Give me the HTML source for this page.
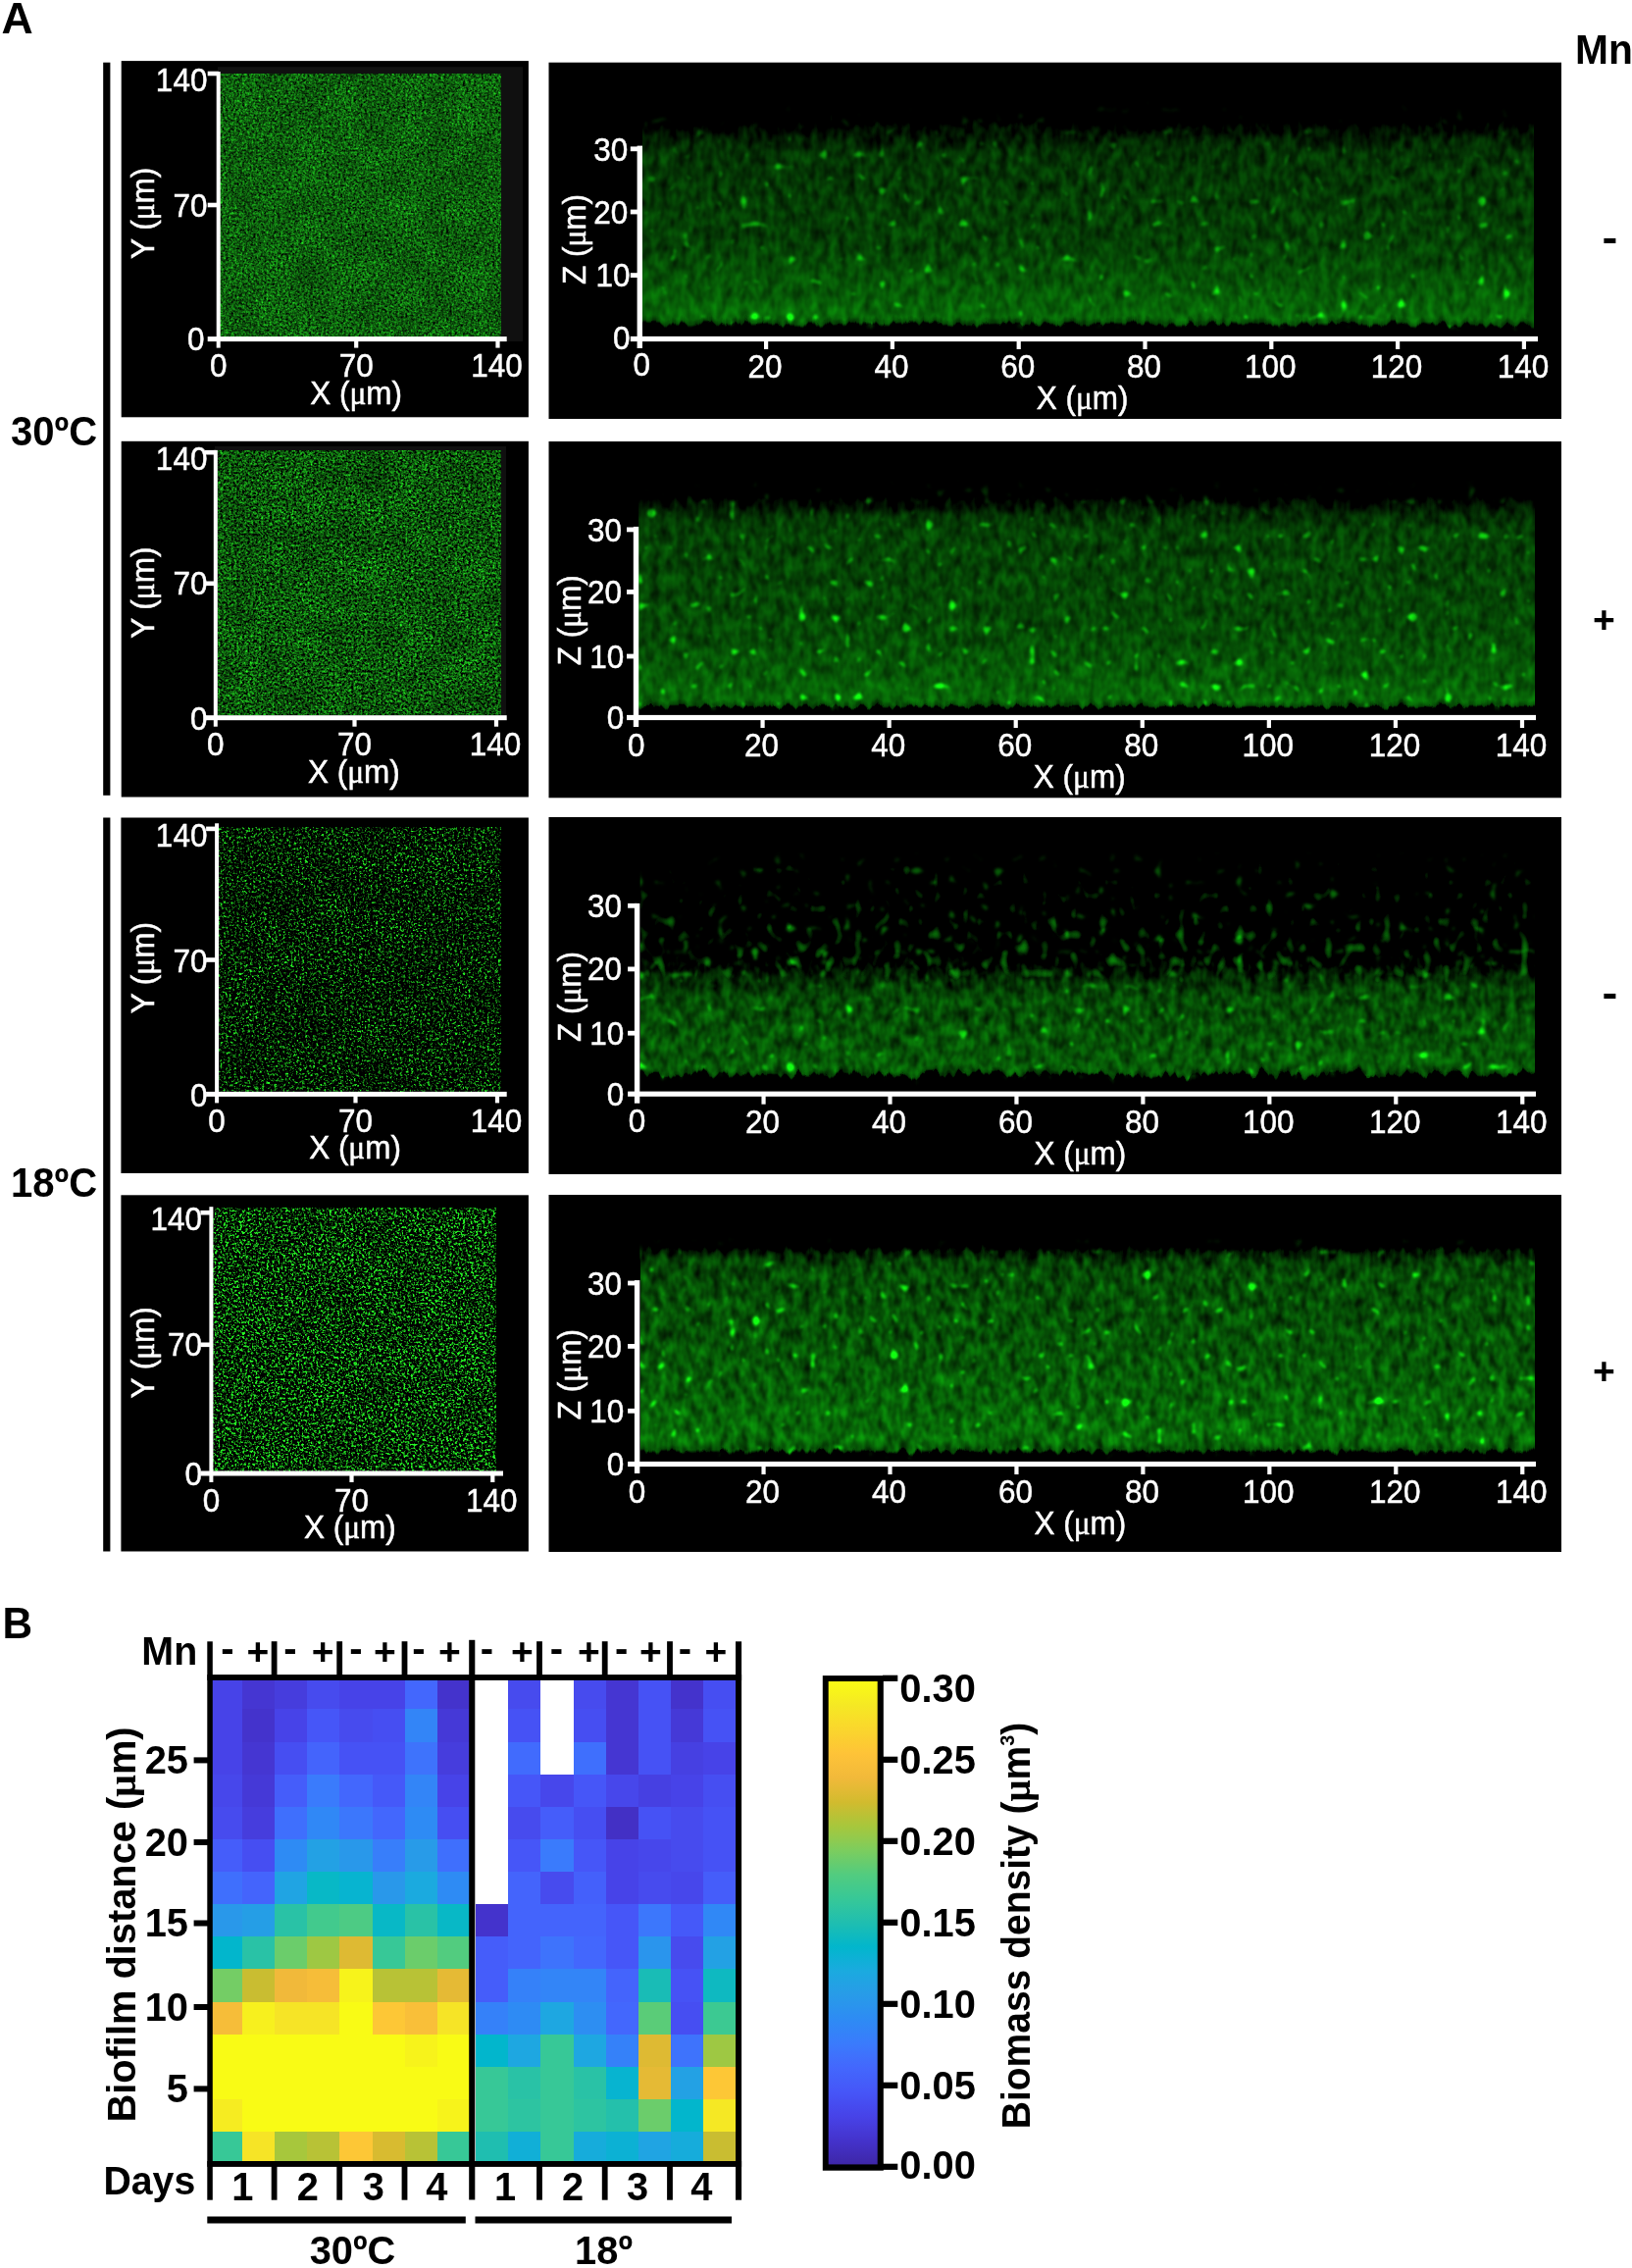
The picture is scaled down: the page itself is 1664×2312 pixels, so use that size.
<!DOCTYPE html>
<html lang="en"><head><meta charset="utf-8"><title>Figure</title>
<style>html,body{margin:0;padding:0;background:#fff}body{width:1664px;height:2312px;overflow:hidden}svg{display:block}text{font-family:"Liberation Sans", sans-serif}.w{fill:#fff;stroke:#fff;stroke-width:.5px}.b{fill:#000;font-weight:bold}.mu{font-family:"Liberation Serif","DejaVu Serif",serif}</style>
</head><body>
<svg width="1664" height="2312" viewBox="0 0 1664 2312">
<rect width="1664" height="2312" fill="#fff"/>
<defs>
<filter id="t1" x="0" y="0" width="1" height="1" color-interpolation-filters="sRGB">
<feTurbulence type="fractalNoise" baseFrequency="0.36" numOctaves="2" seed="3" result="a0"/>
<feColorMatrix in="a0" type="matrix" values="1 0 0 0 0  1 0 0 0 0  1 0 0 0 0  0 0 0 0 1" result="a1"/>
<feTurbulence type="fractalNoise" baseFrequency="0.5292" numOctaves="2" seed="104" result="b0"/>
<feColorMatrix in="b0" type="matrix" values="1 0 0 0 0  1 0 0 0 0  1 0 0 0 0  0 0 0 0 1" result="b1"/>
<feComposite in="a1" in2="b1" operator="arithmetic" k1="0" k2="0.5" k3="0.5" k4="0" result="n"/>
<feColorMatrix in="n" type="matrix" values="0 0 0 0 0  1.65 0 0 0 -0.455  0 0 0 0 0  0 0 0 0 1" result="g"/>
<feTurbulence type="fractalNoise" baseFrequency="0.03" numOctaves="2" seed="205" result="l0"/>
<feColorMatrix in="l0" type="matrix" values="1 0 0 0 0  1 0 0 0 0  1 0 0 0 0  0 0 0 0 1" result="l1"/>
<feComposite in="g" in2="l1" operator="arithmetic" k1="0.5" k2="0.75" k3="0" k4="0" result="h"/>
<feColorMatrix in="h" type="matrix" values="0 0.15 0 0 0  0 1 0 0 0  0 0.15 0 0 0  0 0 0 0 1"/>
</filter>
<filter id="t2" x="0" y="0" width="1" height="1" color-interpolation-filters="sRGB">
<feTurbulence type="fractalNoise" baseFrequency="0.36" numOctaves="2" seed="11" result="a0"/>
<feColorMatrix in="a0" type="matrix" values="1 0 0 0 0  1 0 0 0 0  1 0 0 0 0  0 0 0 0 1" result="a1"/>
<feTurbulence type="fractalNoise" baseFrequency="0.5292" numOctaves="2" seed="112" result="b0"/>
<feColorMatrix in="b0" type="matrix" values="1 0 0 0 0  1 0 0 0 0  1 0 0 0 0  0 0 0 0 1" result="b1"/>
<feComposite in="a1" in2="b1" operator="arithmetic" k1="0" k2="0.5" k3="0.5" k4="0" result="n"/>
<feColorMatrix in="n" type="matrix" values="0 0 0 0 0  2.25 0 0 0 -0.795  0 0 0 0 0  0 0 0 0 1" result="g"/>
<feTurbulence type="fractalNoise" baseFrequency="0.03" numOctaves="2" seed="213" result="l0"/>
<feColorMatrix in="l0" type="matrix" values="1 0 0 0 0  1 0 0 0 0  1 0 0 0 0  0 0 0 0 1" result="l1"/>
<feComposite in="g" in2="l1" operator="arithmetic" k1="0.6" k2="0.7" k3="0" k4="0" result="h"/>
<feColorMatrix in="h" type="matrix" values="0 0.15 0 0 0  0 1 0 0 0  0 0.15 0 0 0  0 0 0 0 1"/>
</filter>
<filter id="t3" x="0" y="0" width="1" height="1" color-interpolation-filters="sRGB">
<feTurbulence type="fractalNoise" baseFrequency="0.36" numOctaves="2" seed="23" result="a0"/>
<feColorMatrix in="a0" type="matrix" values="1 0 0 0 0  1 0 0 0 0  1 0 0 0 0  0 0 0 0 1" result="a1"/>
<feTurbulence type="fractalNoise" baseFrequency="0.5292" numOctaves="2" seed="124" result="b0"/>
<feColorMatrix in="b0" type="matrix" values="1 0 0 0 0  1 0 0 0 0  1 0 0 0 0  0 0 0 0 1" result="b1"/>
<feComposite in="a1" in2="b1" operator="arithmetic" k1="0" k2="0.5" k3="0.5" k4="0" result="n"/>
<feColorMatrix in="n" type="matrix" values="0 0 0 0 0  4.4 0 0 0 -2.2  0 0 0 0 0  0 0 0 0 1" result="g"/>
<feTurbulence type="fractalNoise" baseFrequency="0.03" numOctaves="2" seed="225" result="l0"/>
<feColorMatrix in="l0" type="matrix" values="1 0 0 0 0  1 0 0 0 0  1 0 0 0 0  0 0 0 0 1" result="l1"/>
<feComposite in="g" in2="l1" operator="arithmetic" k1="0.9" k2="0.55" k3="0" k4="0" result="h"/>
<feColorMatrix in="h" type="matrix" values="0 0.15 0 0 0  0 1 0 0 0  0 0.15 0 0 0  0 0 0 0 1"/>
</filter>
<filter id="t4" x="0" y="0" width="1" height="1" color-interpolation-filters="sRGB">
<feTurbulence type="fractalNoise" baseFrequency="0.36" numOctaves="2" seed="37" result="a0"/>
<feColorMatrix in="a0" type="matrix" values="1 0 0 0 0  1 0 0 0 0  1 0 0 0 0  0 0 0 0 1" result="a1"/>
<feTurbulence type="fractalNoise" baseFrequency="0.5292" numOctaves="2" seed="138" result="b0"/>
<feColorMatrix in="b0" type="matrix" values="1 0 0 0 0  1 0 0 0 0  1 0 0 0 0  0 0 0 0 1" result="b1"/>
<feComposite in="a1" in2="b1" operator="arithmetic" k1="0" k2="0.5" k3="0.5" k4="0" result="n"/>
<feColorMatrix in="n" type="matrix" values="0 0 0 0 0  5.45 0 0 0 -2.616  0 0 0 0 0  0 0 0 0 1" result="g"/>
<feTurbulence type="fractalNoise" baseFrequency="0.03" numOctaves="2" seed="239" result="l0"/>
<feColorMatrix in="l0" type="matrix" values="1 0 0 0 0  1 0 0 0 0  1 0 0 0 0  0 0 0 0 1" result="l1"/>
<feComposite in="g" in2="l1" operator="arithmetic" k1="0.7" k2="0.65" k3="0" k4="0" result="h"/>
<feColorMatrix in="h" type="matrix" values="0 0.15 0 0 0  0 1 0 0 0  0 0.15 0 0 0  0 0 0 0 1"/>
</filter>
<filter id="s1" x="0" y="0" width="1" height="1" color-interpolation-filters="sRGB">
<feTurbulence type="fractalNoise" baseFrequency="0.12 0.004" numOctaves="2" seed="12" result="r0"/>
<feColorMatrix in="r0" type="matrix" values="1 0 0 0 0  0 0 0 0 0.5  0 0 0 0 0.5  0 0 0 0 1" result="r1"/>
<feDisplacementMap in="SourceGraphic" in2="r1" scale="12" xChannelSelector="G" yChannelSelector="R" result="sg"/>
<feTurbulence type="fractalNoise" baseFrequency="0.11 0.065" numOctaves="2" seed="5" result="t"/>
<feColorMatrix in="t" type="matrix" values="1 0 0 0 0  1 0 0 0 0  1 0 0 0 0  0 0 0 0 1" result="n"/>
<feComposite in="n" in2="sg" operator="arithmetic" k1="0" k2="0.4" k3="1" k4="-0.7" result="c"/>
<feTurbulence type="fractalNoise" baseFrequency="0.085 0.085" numOctaves="1" seed="55" result="u"/>
<feColorMatrix in="u" type="matrix" values="0 9 0 0 -6.1  0 9 0 0 -6.1  0 9 0 0 -6.1  0 0 0 0 1" result="s0"/>
<feGaussianBlur in="s0" stdDeviation="1.2" result="s"/>
<feComposite in="s" in2="sg" operator="arithmetic" k1="1.2" k2="0" k3="0" k4="0" result="s2"/>
<feComposite in="c" in2="s2" operator="arithmetic" k1="0.5" k2="1" k3="0.45" k4="0" result="d"/>
<feColorMatrix in="d" type="matrix" values="0 0.07 0 0 0  0 1 0 0 0  0 0.07 0 0 0  0 0 0 0 1" result="e"/>
<feGaussianBlur in="e" stdDeviation="0.6"/>
</filter>
<filter id="s2" x="0" y="0" width="1" height="1" color-interpolation-filters="sRGB">
<feTurbulence type="fractalNoise" baseFrequency="0.12 0.004" numOctaves="2" seed="22" result="r0"/>
<feColorMatrix in="r0" type="matrix" values="1 0 0 0 0  0 0 0 0 0.5  0 0 0 0 0.5  0 0 0 0 1" result="r1"/>
<feDisplacementMap in="SourceGraphic" in2="r1" scale="12" xChannelSelector="G" yChannelSelector="R" result="sg"/>
<feTurbulence type="fractalNoise" baseFrequency="0.11 0.065" numOctaves="2" seed="15" result="t"/>
<feColorMatrix in="t" type="matrix" values="1 0 0 0 0  1 0 0 0 0  1 0 0 0 0  0 0 0 0 1" result="n"/>
<feComposite in="n" in2="sg" operator="arithmetic" k1="0" k2="0.42" k3="1" k4="-0.71" result="c"/>
<feTurbulence type="fractalNoise" baseFrequency="0.085 0.085" numOctaves="1" seed="65" result="u"/>
<feColorMatrix in="u" type="matrix" values="0 9 0 0 -6.1  0 9 0 0 -6.1  0 9 0 0 -6.1  0 0 0 0 1" result="s0"/>
<feGaussianBlur in="s0" stdDeviation="1.2" result="s"/>
<feComposite in="s" in2="sg" operator="arithmetic" k1="1.2" k2="0" k3="0" k4="0" result="s2"/>
<feComposite in="c" in2="s2" operator="arithmetic" k1="0.5" k2="1" k3="0.6" k4="0" result="d"/>
<feColorMatrix in="d" type="matrix" values="0 0.07 0 0 0  0 1 0 0 0  0 0.07 0 0 0  0 0 0 0 1" result="e"/>
<feGaussianBlur in="e" stdDeviation="0.6"/>
</filter>
<filter id="s3" x="0" y="0" width="1" height="1" color-interpolation-filters="sRGB">
<feTurbulence type="fractalNoise" baseFrequency="0.12 0.004" numOctaves="2" seed="32" result="r0"/>
<feColorMatrix in="r0" type="matrix" values="1 0 0 0 0  0 0 0 0 0.5  0 0 0 0 0.5  0 0 0 0 1" result="r1"/>
<feDisplacementMap in="SourceGraphic" in2="r1" scale="18" xChannelSelector="G" yChannelSelector="R" result="sg"/>
<feTurbulence type="fractalNoise" baseFrequency="0.11 0.07" numOctaves="2" seed="25" result="t"/>
<feColorMatrix in="t" type="matrix" values="1 0 0 0 0  1 0 0 0 0  1 0 0 0 0  0 0 0 0 1" result="n"/>
<feComposite in="n" in2="sg" operator="arithmetic" k1="0" k2="0.55" k3="1" k4="-0.775" result="c"/>
<feTurbulence type="fractalNoise" baseFrequency="0.085 0.085" numOctaves="1" seed="75" result="u"/>
<feColorMatrix in="u" type="matrix" values="0 9 0 0 -6.1  0 9 0 0 -6.1  0 9 0 0 -6.1  0 0 0 0 1" result="s0"/>
<feGaussianBlur in="s0" stdDeviation="1.2" result="s"/>
<feComposite in="s" in2="sg" operator="arithmetic" k1="1.2" k2="0" k3="0" k4="0" result="s2"/>
<feComposite in="c" in2="s2" operator="arithmetic" k1="0.5" k2="1" k3="0.55" k4="0" result="d"/>
<feColorMatrix in="d" type="matrix" values="0 0.07 0 0 0  0 1 0 0 0  0 0.07 0 0 0  0 0 0 0 1" result="e"/>
<feGaussianBlur in="e" stdDeviation="0.6"/>
</filter>
<filter id="s3b" x="0" y="0" width="1" height="1" color-interpolation-filters="sRGB">
<feTurbulence type="fractalNoise" baseFrequency="0.12 0.004" numOctaves="2" seed="84" result="r0"/>
<feColorMatrix in="r0" type="matrix" values="1 0 0 0 0  0 0 0 0 0.5  0 0 0 0 0.5  0 0 0 0 1" result="r1"/>
<feDisplacementMap in="SourceGraphic" in2="r1" scale="0" xChannelSelector="G" yChannelSelector="R" result="sg"/>
<feTurbulence type="fractalNoise" baseFrequency="0.1 0.075" numOctaves="1" seed="77" result="t"/>
<feColorMatrix in="t" type="matrix" values="1 0 0 0 0  1 0 0 0 0  1 0 0 0 0  0 0 0 0 1" result="n"/>
<feComposite in="n" in2="sg" operator="arithmetic" k1="0" k2="2" k3="1.5" k4="-2" result="c"/>
<feTurbulence type="fractalNoise" baseFrequency="0.085 0.085" numOctaves="1" seed="127" result="u"/>
<feColorMatrix in="u" type="matrix" values="0 9 0 0 -6.1  0 9 0 0 -6.1  0 9 0 0 -6.1  0 0 0 0 1" result="s0"/>
<feGaussianBlur in="s0" stdDeviation="1.2" result="s"/>
<feComposite in="s" in2="sg" operator="arithmetic" k1="1.2" k2="0" k3="0" k4="0" result="s2"/>
<feComposite in="c" in2="s2" operator="arithmetic" k1="0.5" k2="1" k3="0.75" k4="0" result="d"/>
<feColorMatrix in="d" type="matrix" values="0 0.07 0 0 0  0 1 0 0 0  0 0.07 0 0 0  0 0 0 0 1" result="e"/>
<feGaussianBlur in="e" stdDeviation="0.6"/>
</filter>
<filter id="s4" x="0" y="0" width="1" height="1" color-interpolation-filters="sRGB">
<feTurbulence type="fractalNoise" baseFrequency="0.12 0.004" numOctaves="2" seed="42" result="r0"/>
<feColorMatrix in="r0" type="matrix" values="1 0 0 0 0  0 0 0 0 0.5  0 0 0 0 0.5  0 0 0 0 1" result="r1"/>
<feDisplacementMap in="SourceGraphic" in2="r1" scale="12" xChannelSelector="G" yChannelSelector="R" result="sg"/>
<feTurbulence type="fractalNoise" baseFrequency="0.11 0.065" numOctaves="2" seed="35" result="t"/>
<feColorMatrix in="t" type="matrix" values="1 0 0 0 0  1 0 0 0 0  1 0 0 0 0  0 0 0 0 1" result="n"/>
<feComposite in="n" in2="sg" operator="arithmetic" k1="0" k2="0.6" k3="1" k4="-0.8" result="c"/>
<feTurbulence type="fractalNoise" baseFrequency="0.085 0.085" numOctaves="1" seed="85" result="u"/>
<feColorMatrix in="u" type="matrix" values="0 9 0 0 -6.1  0 9 0 0 -6.1  0 9 0 0 -6.1  0 0 0 0 1" result="s0"/>
<feGaussianBlur in="s0" stdDeviation="1.2" result="s"/>
<feComposite in="s" in2="sg" operator="arithmetic" k1="1.2" k2="0" k3="0" k4="0" result="s2"/>
<feComposite in="c" in2="s2" operator="arithmetic" k1="0.5" k2="1" k3="0.75" k4="0" result="d"/>
<feColorMatrix in="d" type="matrix" values="0 0.07 0 0 0  0 1 0 0 0  0 0.07 0 0 0  0 0 0 0 1" result="e"/>
<feGaussianBlur in="e" stdDeviation="0.6"/>
</filter>
<linearGradient id="cb" x1="0" y1="0" x2="0" y2="1">
<stop offset="0" stop-color="#f9fb15"/>
<stop offset="0.025" stop-color="#f7f21c"/>
<stop offset="0.05" stop-color="#f5e824"/>
<stop offset="0.075" stop-color="#f8df28"/>
<stop offset="0.1" stop-color="#fad62d"/>
<stop offset="0.125" stop-color="#fccc32"/>
<stop offset="0.15" stop-color="#fec338"/>
<stop offset="0.175" stop-color="#f8be39"/>
<stop offset="0.2" stop-color="#f1b93a"/>
<stop offset="0.225" stop-color="#e2ba34"/>
<stop offset="0.25" stop-color="#d2bb2e"/>
<stop offset="0.275" stop-color="#bcc135"/>
<stop offset="0.3" stop-color="#a7c73c"/>
<stop offset="0.325" stop-color="#92ca4d"/>
<stop offset="0.35" stop-color="#7ccd5e"/>
<stop offset="0.375" stop-color="#67cc6e"/>
<stop offset="0.4" stop-color="#52cc7f"/>
<stop offset="0.425" stop-color="#44ca8b"/>
<stop offset="0.45" stop-color="#37c897"/>
<stop offset="0.475" stop-color="#2bc3a4"/>
<stop offset="0.5" stop-color="#1fbeb0"/>
<stop offset="0.525" stop-color="#10babe"/>
<stop offset="0.55" stop-color="#02b6cc"/>
<stop offset="0.575" stop-color="#0eb0d6"/>
<stop offset="0.6" stop-color="#1baadf"/>
<stop offset="0.625" stop-color="#22a2e4"/>
<stop offset="0.65" stop-color="#289be8"/>
<stop offset="0.675" stop-color="#2b93ee"/>
<stop offset="0.7" stop-color="#2e8bf4"/>
<stop offset="0.725" stop-color="#3483f8"/>
<stop offset="0.75" stop-color="#3a7bfc"/>
<stop offset="0.775" stop-color="#3f71fc"/>
<stop offset="0.8" stop-color="#4367fd"/>
<stop offset="0.825" stop-color="#445ffa"/>
<stop offset="0.85" stop-color="#4656f8"/>
<stop offset="0.875" stop-color="#464cf0"/>
<stop offset="0.9" stop-color="#4743e8"/>
<stop offset="0.925" stop-color="#463bda"/>
<stop offset="0.95" stop-color="#4433cc"/>
<stop offset="0.975" stop-color="#412dba"/>
<stop offset="1" stop-color="#3e26a8"/>
</linearGradient>
</defs>
<rect x="123.7" y="62.1" width="415.2" height="363.2" fill="#000"/>
<rect x="222" y="68.2" width="311" height="279.8" fill="#101010"/>
<rect x="224.4" y="75" width="286.6" height="268.1" fill="#0a6a0a" filter="url(#t1)"/>
<rect x="220.7" y="73.1" width="4" height="281.5" fill="#fff"/>
<rect x="211.7" y="343.1" width="305" height="5" fill="#fff"/>
<rect x="361.1" y="345.6" width="4.2" height="9" fill="#fff"/>
<rect x="505.4" y="345.6" width="4.2" height="9" fill="#fff"/>
<rect x="211.7" y="72.7" width="11" height="4.6" fill="#fff"/>
<rect x="211.7" y="206.7" width="11" height="4.6" fill="#fff"/>
<text transform="translate(222.7 384.3) scale(0.94 1)" font-size="33.5" text-anchor="middle" class="w">0</text>
<text transform="translate(363.2 384.3) scale(0.94 1)" font-size="33.5" text-anchor="middle" class="w">70</text>
<text transform="translate(506.5 384.3) scale(0.94 1)" font-size="33.5" text-anchor="middle" class="w">140</text>
<text transform="translate(211.4 92.7) scale(0.94 1)" font-size="33.5" text-anchor="end" class="w">140</text>
<text transform="translate(211.4 220.5) scale(0.94 1)" font-size="33.5" text-anchor="end" class="w">70</text>
<text transform="translate(208.5 356.9) scale(0.94 1)" font-size="33.5" text-anchor="end" class="w">0</text>
<text transform="translate(363.1 411.6) scale(0.94 1)" font-size="33.5" text-anchor="middle" class="w">X (<tspan class="mu">μ</tspan>m)</text>
<text transform="translate(156.6 217.3) rotate(-90) scale(0.94 1)" font-size="33.5" text-anchor="middle" class="w">Y (<tspan class="mu">μ</tspan>m)</text>
<rect x="123.7" y="449.8" width="415.2" height="362.7" fill="#000"/>
<rect x="219" y="455" width="297" height="279" fill="#101010"/>
<rect x="222" y="459.3" width="289" height="269.7" fill="#0a6a0a" filter="url(#t2)"/>
<rect x="217.8" y="458.9" width="4" height="281.8" fill="#fff"/>
<rect x="208.8" y="729.2" width="307.9" height="5" fill="#fff"/>
<rect x="359.4" y="731.7" width="4.2" height="9" fill="#fff"/>
<rect x="503.9" y="731.7" width="4.2" height="9" fill="#fff"/>
<rect x="208.8" y="458.9" width="11" height="4.6" fill="#fff"/>
<rect x="208.8" y="592.5" width="11" height="4.6" fill="#fff"/>
<text transform="translate(219.8 770.4) scale(0.94 1)" font-size="33.5" text-anchor="middle" class="w">0</text>
<text transform="translate(361.5 770.4) scale(0.94 1)" font-size="33.5" text-anchor="middle" class="w">70</text>
<text transform="translate(505 770.4) scale(0.94 1)" font-size="33.5" text-anchor="middle" class="w">140</text>
<text transform="translate(211.4 478.7) scale(0.94 1)" font-size="33.5" text-anchor="end" class="w">140</text>
<text transform="translate(211.4 606.4) scale(0.94 1)" font-size="33.5" text-anchor="end" class="w">70</text>
<text transform="translate(211.4 743.7) scale(0.94 1)" font-size="33.5" text-anchor="end" class="w">0</text>
<text transform="translate(360.9 797.7) scale(0.94 1)" font-size="33.5" text-anchor="middle" class="w">X (<tspan class="mu">μ</tspan>m)</text>
<text transform="translate(156.6 604.2) rotate(-90) scale(0.94 1)" font-size="33.5" text-anchor="middle" class="w">Y (<tspan class="mu">μ</tspan>m)</text>
<rect x="123.4" y="833.5" width="415.5" height="362.5" fill="#000"/>
<rect x="223.4" y="843.2" width="287.6" height="269.8" fill="#0a6a0a" filter="url(#t3)"/>
<rect x="219.1" y="839.3" width="4" height="285.1" fill="#fff"/>
<rect x="210.1" y="1112.9" width="306.6" height="5" fill="#fff"/>
<rect x="360.4" y="1115.4" width="4.2" height="9" fill="#fff"/>
<rect x="504.9" y="1115.4" width="4.2" height="9" fill="#fff"/>
<rect x="210.1" y="842.6" width="11" height="4.6" fill="#fff"/>
<rect x="210.1" y="976.2" width="11" height="4.6" fill="#fff"/>
<text transform="translate(221.1 1154.1) scale(0.94 1)" font-size="33.5" text-anchor="middle" class="w">0</text>
<text transform="translate(362.5 1154.1) scale(0.94 1)" font-size="33.5" text-anchor="middle" class="w">70</text>
<text transform="translate(506 1154.1) scale(0.94 1)" font-size="33.5" text-anchor="middle" class="w">140</text>
<text transform="translate(211.4 863.1) scale(0.94 1)" font-size="33.5" text-anchor="end" class="w">140</text>
<text transform="translate(211.4 990.7) scale(0.94 1)" font-size="33.5" text-anchor="end" class="w">70</text>
<text transform="translate(211.4 1127.6) scale(0.94 1)" font-size="33.5" text-anchor="end" class="w">0</text>
<text transform="translate(362.05 1181.4) scale(0.94 1)" font-size="33.5" text-anchor="middle" class="w">X (<tspan class="mu">μ</tspan>m)</text>
<text transform="translate(156.6 986.7) rotate(-90) scale(0.94 1)" font-size="33.5" text-anchor="middle" class="w">Y (<tspan class="mu">μ</tspan>m)</text>
<rect x="123.4" y="1218.3" width="415.5" height="363.2" fill="#000"/>
<rect x="217.4" y="1231" width="288.4" height="268.5" fill="#0a6a0a" filter="url(#t4)"/>
<rect x="213.4" y="1230.2" width="4" height="280.8" fill="#fff"/>
<rect x="204.4" y="1499.5" width="308.6" height="5" fill="#fff"/>
<rect x="356.4" y="1502" width="4.2" height="9" fill="#fff"/>
<rect x="500.2" y="1502" width="4.2" height="9" fill="#fff"/>
<rect x="204.4" y="1233.9" width="11" height="4.6" fill="#fff"/>
<rect x="204.4" y="1368.5" width="11" height="4.6" fill="#fff"/>
<text transform="translate(215.4 1540.7) scale(0.94 1)" font-size="33.5" text-anchor="middle" class="w">0</text>
<text transform="translate(358.5 1540.7) scale(0.94 1)" font-size="33.5" text-anchor="middle" class="w">70</text>
<text transform="translate(501.3 1540.7) scale(0.94 1)" font-size="33.5" text-anchor="middle" class="w">140</text>
<text transform="translate(206 1254) scale(0.94 1)" font-size="33.5" text-anchor="end" class="w">140</text>
<text transform="translate(206 1382.3) scale(0.94 1)" font-size="33.5" text-anchor="end" class="w">70</text>
<text transform="translate(206 1513.8) scale(0.94 1)" font-size="33.5" text-anchor="end" class="w">0</text>
<text transform="translate(356.85 1568) scale(0.94 1)" font-size="33.5" text-anchor="middle" class="w">X (<tspan class="mu">μ</tspan>m)</text>
<text transform="translate(156.6 1378.8) rotate(-90) scale(0.94 1)" font-size="33.5" text-anchor="middle" class="w">Y (<tspan class="mu">μ</tspan>m)</text>
<rect x="559.5" y="63.7" width="1032.5" height="363.3" fill="#000"/>
<defs>
<linearGradient id="ps1" gradientUnits="userSpaceOnUse" x1="0" y1="100" x2="0" y2="340">
<stop offset="0.0000" stop-color="#000000"/>
<stop offset="0.0250" stop-color="#000000"/>
<stop offset="0.0542" stop-color="#333333"/>
<stop offset="0.0875" stop-color="#5e5e5e"/>
<stop offset="0.1292" stop-color="#858585"/>
<stop offset="0.1750" stop-color="#9e9e9e"/>
<stop offset="0.2333" stop-color="#b2b2b2"/>
<stop offset="0.6250" stop-color="#bfbfbf"/>
<stop offset="0.7917" stop-color="#d4d4d4"/>
<stop offset="0.9333" stop-color="#e8e8e8"/>
<stop offset="0.9542" stop-color="#c7c7c7"/>
<stop offset="0.9750" stop-color="#333333"/>
<stop offset="0.9875" stop-color="#000000"/>
<stop offset="1.0000" stop-color="#000000"/>
</linearGradient>
</defs>
<rect x="655" y="100" width="909" height="240" fill="url(#ps1)" filter="url(#s1)"/>
<rect x="649.6" y="148.6" width="5.4" height="206.4" fill="#fff"/>
<rect x="642.8" y="342.9" width="925.2" height="5.2" fill="#fff"/>
<rect x="779" y="345.5" width="4.2" height="10.5" fill="#fff"/>
<rect x="907.8" y="345.5" width="4.2" height="10.5" fill="#fff"/>
<rect x="1036.6" y="345.5" width="4.2" height="10.5" fill="#fff"/>
<rect x="1165.4" y="345.5" width="4.2" height="10.5" fill="#fff"/>
<rect x="1294.2" y="345.5" width="4.2" height="10.5" fill="#fff"/>
<rect x="1423" y="345.5" width="4.2" height="10.5" fill="#fff"/>
<rect x="1551.8" y="345.5" width="4.2" height="10.5" fill="#fff"/>
<rect x="642.8" y="149.4" width="9.5" height="4.8" fill="#fff"/>
<rect x="642.8" y="213.6" width="9.5" height="4.8" fill="#fff"/>
<rect x="642.8" y="278.2" width="9.5" height="4.8" fill="#fff"/>
<text transform="translate(654.3 382.5) scale(0.94 1)" font-size="33.5" text-anchor="middle" class="w">0</text>
<text transform="translate(780.1 384.9) scale(0.94 1)" font-size="33.5" text-anchor="middle" class="w">20</text>
<text transform="translate(908.9 384.9) scale(0.94 1)" font-size="33.5" text-anchor="middle" class="w">40</text>
<text transform="translate(1037.7 384.9) scale(0.94 1)" font-size="33.5" text-anchor="middle" class="w">60</text>
<text transform="translate(1166.5 384.9) scale(0.94 1)" font-size="33.5" text-anchor="middle" class="w">80</text>
<text transform="translate(1295.3 384.9) scale(0.94 1)" font-size="33.5" text-anchor="middle" class="w">100</text>
<text transform="translate(1424.1 384.9) scale(0.94 1)" font-size="33.5" text-anchor="middle" class="w">120</text>
<text transform="translate(1552.9 384.9) scale(0.94 1)" font-size="33.5" text-anchor="middle" class="w">140</text>
<text transform="translate(640.2 163.8) scale(0.94 1)" font-size="33.5" text-anchor="end" class="w">30</text>
<text transform="translate(640.2 227.5) scale(0.94 1)" font-size="33.5" text-anchor="end" class="w">20</text>
<text transform="translate(642.4 292.3) scale(0.94 1)" font-size="33.5" text-anchor="end" class="w">10</text>
<text transform="translate(642.4 355.5) scale(0.94 1)" font-size="33.5" text-anchor="end" class="w">0</text>
<text transform="translate(1103.6 417) scale(0.94 1)" font-size="33.5" text-anchor="middle" class="w">X (<tspan class="mu">μ</tspan>m)</text>
<text transform="translate(597 244) rotate(-90) scale(0.94 1)" font-size="33.5" text-anchor="middle" class="w">Z (<tspan class="mu">μ</tspan>m)</text>
<rect x="559.5" y="450" width="1032.5" height="363.3" fill="#000"/>
<defs>
<linearGradient id="ps2" gradientUnits="userSpaceOnUse" x1="0" y1="480" x2="0" y2="728">
<stop offset="0.0000" stop-color="#000000"/>
<stop offset="0.0403" stop-color="#000000"/>
<stop offset="0.0806" stop-color="#404040"/>
<stop offset="0.1210" stop-color="#808080"/>
<stop offset="0.1815" stop-color="#adadad"/>
<stop offset="0.2419" stop-color="#bfbfbf"/>
<stop offset="0.6452" stop-color="#c7c7c7"/>
<stop offset="0.8468" stop-color="#d9d9d9"/>
<stop offset="0.9435" stop-color="#e6e6e6"/>
<stop offset="0.9637" stop-color="#c4c4c4"/>
<stop offset="0.9798" stop-color="#333333"/>
<stop offset="0.9919" stop-color="#000000"/>
<stop offset="1.0000" stop-color="#000000"/>
</linearGradient>
</defs>
<rect x="651" y="480" width="914" height="248" fill="url(#ps2)" filter="url(#s2)"/>
<rect x="645.8" y="536.9" width="5.4" height="204.1" fill="#fff"/>
<rect x="639" y="728.9" width="927" height="5.2" fill="#fff"/>
<rect x="775.47" y="731.5" width="4.2" height="10.5" fill="#fff"/>
<rect x="904.54" y="731.5" width="4.2" height="10.5" fill="#fff"/>
<rect x="1033.61" y="731.5" width="4.2" height="10.5" fill="#fff"/>
<rect x="1162.68" y="731.5" width="4.2" height="10.5" fill="#fff"/>
<rect x="1291.75" y="731.5" width="4.2" height="10.5" fill="#fff"/>
<rect x="1420.82" y="731.5" width="4.2" height="10.5" fill="#fff"/>
<rect x="1549.89" y="731.5" width="4.2" height="10.5" fill="#fff"/>
<rect x="639" y="537.5" width="9.5" height="4.8" fill="#fff"/>
<rect x="639" y="601" width="9.5" height="4.8" fill="#fff"/>
<rect x="639" y="666.6" width="9.5" height="4.8" fill="#fff"/>
<text transform="translate(648.8 770.5) scale(0.94 1)" font-size="33.5" text-anchor="middle" class="w">0</text>
<text transform="translate(776.57 770.9) scale(0.94 1)" font-size="33.5" text-anchor="middle" class="w">20</text>
<text transform="translate(905.64 770.9) scale(0.94 1)" font-size="33.5" text-anchor="middle" class="w">40</text>
<text transform="translate(1034.71 770.9) scale(0.94 1)" font-size="33.5" text-anchor="middle" class="w">60</text>
<text transform="translate(1163.78 770.9) scale(0.94 1)" font-size="33.5" text-anchor="middle" class="w">80</text>
<text transform="translate(1292.85 770.9) scale(0.94 1)" font-size="33.5" text-anchor="middle" class="w">100</text>
<text transform="translate(1421.92 770.9) scale(0.94 1)" font-size="33.5" text-anchor="middle" class="w">120</text>
<text transform="translate(1550.99 770.9) scale(0.94 1)" font-size="33.5" text-anchor="middle" class="w">140</text>
<text transform="translate(634.1 551.8) scale(0.94 1)" font-size="33.5" text-anchor="end" class="w">30</text>
<text transform="translate(634.1 614.8) scale(0.94 1)" font-size="33.5" text-anchor="end" class="w">20</text>
<text transform="translate(636.3 681) scale(0.94 1)" font-size="33.5" text-anchor="end" class="w">10</text>
<text transform="translate(636.3 742.9) scale(0.94 1)" font-size="33.5" text-anchor="end" class="w">0</text>
<text transform="translate(1100.74 803) scale(0.94 1)" font-size="33.5" text-anchor="middle" class="w">X (<tspan class="mu">μ</tspan>m)</text>
<text transform="translate(592.3 632.2) rotate(-90) scale(0.94 1)" font-size="33.5" text-anchor="middle" class="w">Z (<tspan class="mu">μ</tspan>m)</text>
<rect x="559.5" y="833" width="1032.5" height="364" fill="#000"/>
<defs>
<linearGradient id="ps3" gradientUnits="userSpaceOnUse" x1="0" y1="860" x2="0" y2="1111">
<stop offset="0.0000" stop-color="#000000"/>
<stop offset="0.3586" stop-color="#000000"/>
<stop offset="0.4143" stop-color="#333333"/>
<stop offset="0.4661" stop-color="#616161"/>
<stop offset="0.5139" stop-color="#8c8c8c"/>
<stop offset="0.5618" stop-color="#b2b2b2"/>
<stop offset="0.6175" stop-color="#c7c7c7"/>
<stop offset="0.7968" stop-color="#d1d1d1"/>
<stop offset="0.9163" stop-color="#dbdbdb"/>
<stop offset="0.9323" stop-color="#bfbfbf"/>
<stop offset="0.9482" stop-color="#333333"/>
<stop offset="0.9602" stop-color="#000000"/>
<stop offset="1.0000" stop-color="#000000"/>
</linearGradient>
</defs>
<rect x="652.5" y="860" width="912.5" height="251" fill="url(#ps3)" filter="url(#s3)"/>
<defs>
<linearGradient id="ps3b" gradientUnits="userSpaceOnUse" x1="0" y1="860" x2="0" y2="1111">
<stop offset="0.0000" stop-color="#000000"/>
<stop offset="0.0319" stop-color="#000000"/>
<stop offset="0.0797" stop-color="#5c5c5c"/>
<stop offset="0.1594" stop-color="#6d6d6d"/>
<stop offset="0.2789" stop-color="#7e7e7e"/>
<stop offset="0.3984" stop-color="#909090"/>
<stop offset="0.4980" stop-color="#9b9b9b"/>
<stop offset="0.5578" stop-color="#777777"/>
<stop offset="0.6056" stop-color="#000000"/>
<stop offset="1.0000" stop-color="#000000"/>
</linearGradient>
</defs>
<rect x="652.5" y="860" width="912.5" height="251" fill="url(#ps3b)" filter="url(#s3b)" style="mix-blend-mode:screen"/>
<rect x="646.9" y="920.9" width="5.4" height="203.8" fill="#fff"/>
<rect x="640.1" y="1112.6" width="925.9" height="5.2" fill="#fff"/>
<rect x="776.45" y="1115.2" width="4.2" height="10.5" fill="#fff"/>
<rect x="905.4" y="1115.2" width="4.2" height="10.5" fill="#fff"/>
<rect x="1034.35" y="1115.2" width="4.2" height="10.5" fill="#fff"/>
<rect x="1163.3" y="1115.2" width="4.2" height="10.5" fill="#fff"/>
<rect x="1292.25" y="1115.2" width="4.2" height="10.5" fill="#fff"/>
<rect x="1421.2" y="1115.2" width="4.2" height="10.5" fill="#fff"/>
<rect x="1550.15" y="1115.2" width="4.2" height="10.5" fill="#fff"/>
<rect x="640.1" y="920.9" width="9.5" height="4.8" fill="#fff"/>
<rect x="640.1" y="985.5" width="9.5" height="4.8" fill="#fff"/>
<rect x="640.1" y="1050.8" width="9.5" height="4.8" fill="#fff"/>
<text transform="translate(649.6 1154.2) scale(0.94 1)" font-size="33.5" text-anchor="middle" class="w">0</text>
<text transform="translate(777.55 1154.6) scale(0.94 1)" font-size="33.5" text-anchor="middle" class="w">20</text>
<text transform="translate(906.5 1154.6) scale(0.94 1)" font-size="33.5" text-anchor="middle" class="w">40</text>
<text transform="translate(1035.45 1154.6) scale(0.94 1)" font-size="33.5" text-anchor="middle" class="w">60</text>
<text transform="translate(1164.4 1154.6) scale(0.94 1)" font-size="33.5" text-anchor="middle" class="w">80</text>
<text transform="translate(1293.35 1154.6) scale(0.94 1)" font-size="33.5" text-anchor="middle" class="w">100</text>
<text transform="translate(1422.3 1154.6) scale(0.94 1)" font-size="33.5" text-anchor="middle" class="w">120</text>
<text transform="translate(1551.25 1154.6) scale(0.94 1)" font-size="33.5" text-anchor="middle" class="w">140</text>
<text transform="translate(634.1 935.2) scale(0.94 1)" font-size="33.5" text-anchor="end" class="w">30</text>
<text transform="translate(634.1 998.7) scale(0.94 1)" font-size="33.5" text-anchor="end" class="w">20</text>
<text transform="translate(636.3 1064.9) scale(0.94 1)" font-size="33.5" text-anchor="end" class="w">10</text>
<text transform="translate(636.3 1126.8) scale(0.94 1)" font-size="33.5" text-anchor="end" class="w">0</text>
<text transform="translate(1101.42 1186.7) scale(0.94 1)" font-size="33.5" text-anchor="middle" class="w">X (<tspan class="mu">μ</tspan>m)</text>
<text transform="translate(592.3 1016) rotate(-90) scale(0.94 1)" font-size="33.5" text-anchor="middle" class="w">Z (<tspan class="mu">μ</tspan>m)</text>
<rect x="559.5" y="1218" width="1032.5" height="364" fill="#000"/>
<defs>
<linearGradient id="ps4" gradientUnits="userSpaceOnUse" x1="0" y1="1255" x2="0" y2="1489">
<stop offset="0.0000" stop-color="#000000"/>
<stop offset="0.0299" stop-color="#000000"/>
<stop offset="0.0641" stop-color="#4c4c4c"/>
<stop offset="0.0897" stop-color="#949494"/>
<stop offset="0.1282" stop-color="#bdbdbd"/>
<stop offset="0.1923" stop-color="#c9c9c9"/>
<stop offset="0.5342" stop-color="#d4d4d4"/>
<stop offset="0.7479" stop-color="#e0e0e0"/>
<stop offset="0.9103" stop-color="#ebebeb"/>
<stop offset="0.9530" stop-color="#cccccc"/>
<stop offset="0.9744" stop-color="#333333"/>
<stop offset="0.9872" stop-color="#000000"/>
<stop offset="1.0000" stop-color="#000000"/>
</linearGradient>
</defs>
<rect x="652.5" y="1255" width="912.5" height="234" fill="url(#ps4)" filter="url(#s4)"/>
<rect x="646.9" y="1305.1" width="5.4" height="196.9" fill="#fff"/>
<rect x="640.1" y="1489.9" width="925.9" height="5.2" fill="#fff"/>
<rect x="776.45" y="1492.5" width="4.2" height="10.5" fill="#fff"/>
<rect x="905.4" y="1492.5" width="4.2" height="10.5" fill="#fff"/>
<rect x="1034.35" y="1492.5" width="4.2" height="10.5" fill="#fff"/>
<rect x="1163.3" y="1492.5" width="4.2" height="10.5" fill="#fff"/>
<rect x="1292.25" y="1492.5" width="4.2" height="10.5" fill="#fff"/>
<rect x="1421.2" y="1492.5" width="4.2" height="10.5" fill="#fff"/>
<rect x="1550.15" y="1492.5" width="4.2" height="10.5" fill="#fff"/>
<rect x="640.1" y="1305.6" width="9.5" height="4.8" fill="#fff"/>
<rect x="640.1" y="1370" width="9.5" height="4.8" fill="#fff"/>
<rect x="640.1" y="1435.9" width="9.5" height="4.8" fill="#fff"/>
<text transform="translate(649.6 1531.5) scale(0.94 1)" font-size="33.5" text-anchor="middle" class="w">0</text>
<text transform="translate(777.55 1531.9) scale(0.94 1)" font-size="33.5" text-anchor="middle" class="w">20</text>
<text transform="translate(906.5 1531.9) scale(0.94 1)" font-size="33.5" text-anchor="middle" class="w">40</text>
<text transform="translate(1035.45 1531.9) scale(0.94 1)" font-size="33.5" text-anchor="middle" class="w">60</text>
<text transform="translate(1164.4 1531.9) scale(0.94 1)" font-size="33.5" text-anchor="middle" class="w">80</text>
<text transform="translate(1293.35 1531.9) scale(0.94 1)" font-size="33.5" text-anchor="middle" class="w">100</text>
<text transform="translate(1422.3 1531.9) scale(0.94 1)" font-size="33.5" text-anchor="middle" class="w">120</text>
<text transform="translate(1551.25 1531.9) scale(0.94 1)" font-size="33.5" text-anchor="middle" class="w">140</text>
<text transform="translate(634.1 1319.9) scale(0.94 1)" font-size="33.5" text-anchor="end" class="w">30</text>
<text transform="translate(634.1 1384) scale(0.94 1)" font-size="33.5" text-anchor="end" class="w">20</text>
<text transform="translate(636.3 1450.2) scale(0.94 1)" font-size="33.5" text-anchor="end" class="w">10</text>
<text transform="translate(636.3 1504.2) scale(0.94 1)" font-size="33.5" text-anchor="end" class="w">0</text>
<text transform="translate(1101.42 1564) scale(0.94 1)" font-size="33.5" text-anchor="middle" class="w">X (<tspan class="mu">μ</tspan>m)</text>
<text transform="translate(592.3 1401.1) rotate(-90) scale(0.94 1)" font-size="33.5" text-anchor="middle" class="w">Z (<tspan class="mu">μ</tspan>m)</text>
<text transform="translate(1.5 33.5)" font-size="44.6" text-anchor="start" class="b">A</text>
<text transform="translate(1606 64.8) scale(0.96 1)" font-size="42.4" text-anchor="start" class="b">Mn</text>
<rect x="105.2" y="63.7" width="7.2" height="747.1" fill="#000"/>
<rect x="105.2" y="833.5" width="7.2" height="748" fill="#000"/>
<text transform="translate(10.9 454.4) scale(0.955 1)" font-size="42" text-anchor="start" class="b">30ºC</text>
<text transform="translate(10.9 1219.6) scale(0.955 1)" font-size="42" text-anchor="start" class="b">18ºC</text>
<text transform="translate(1633.59 256.706) scale(1.12 1)" font-size="42.4" text-anchor="start" class="b">-</text>
<text transform="translate(1633.59 1026.91) scale(1.12 1)" font-size="42.4" text-anchor="start" class="b">-</text>
<text transform="translate(1623.91 645.363)" font-size="39" text-anchor="start" class="b">+</text>
<text transform="translate(1623.91 1410.56)" font-size="39" text-anchor="start" class="b">+</text>
<text transform="translate(2.4 1669.6) scale(0.95 1)" font-size="44.6" text-anchor="start" class="b">B</text>
<g shape-rendering="crispEdges">
<rect x="213.9" y="1709.3" width="33.64" height="33.6267" fill="#4743e8"/>
<rect x="485" y="1709.3" width="33.7" height="33.6267" fill="#fff"/>
<rect x="247.04" y="1709.3" width="33.64" height="33.6267" fill="#4536d2"/>
<rect x="518.2" y="1709.3" width="33.7" height="33.6267" fill="#474bee"/>
<rect x="280.18" y="1709.3" width="33.64" height="33.6267" fill="#463ddd"/>
<rect x="551.4" y="1709.3" width="33.7" height="33.6267" fill="#fff"/>
<rect x="313.32" y="1709.3" width="33.64" height="33.6267" fill="#474bee"/>
<rect x="584.6" y="1709.3" width="33.7" height="33.6267" fill="#474bee"/>
<rect x="346.46" y="1709.3" width="33.64" height="33.6267" fill="#4743e8"/>
<rect x="617.8" y="1709.3" width="33.7" height="33.6267" fill="#4536d2"/>
<rect x="379.6" y="1709.3" width="33.64" height="33.6267" fill="#4743e8"/>
<rect x="651" y="1709.3" width="33.7" height="33.6267" fill="#4652f5"/>
<rect x="412.74" y="1709.3" width="33.64" height="33.6267" fill="#4367fd"/>
<rect x="684.2" y="1709.3" width="33.7" height="33.6267" fill="#4433cc"/>
<rect x="445.88" y="1709.3" width="33.64" height="33.6267" fill="#4433cc"/>
<rect x="717.4" y="1709.3" width="33.7" height="33.6267" fill="#464ef2"/>
<rect x="213.9" y="1742.43" width="33.64" height="33.6267" fill="#4743e8"/>
<rect x="485" y="1742.43" width="33.7" height="33.6267" fill="#fff"/>
<rect x="247.04" y="1742.43" width="33.64" height="33.6267" fill="#4433cc"/>
<rect x="518.2" y="1742.43" width="33.7" height="33.6267" fill="#4652f5"/>
<rect x="280.18" y="1742.43" width="33.64" height="33.6267" fill="#4743e8"/>
<rect x="551.4" y="1742.43" width="33.7" height="33.6267" fill="#fff"/>
<rect x="313.32" y="1742.43" width="33.64" height="33.6267" fill="#4656f8"/>
<rect x="584.6" y="1742.43" width="33.7" height="33.6267" fill="#464ef2"/>
<rect x="346.46" y="1742.43" width="33.64" height="33.6267" fill="#474bee"/>
<rect x="617.8" y="1742.43" width="33.7" height="33.6267" fill="#4536d2"/>
<rect x="379.6" y="1742.43" width="33.64" height="33.6267" fill="#464ef2"/>
<rect x="651" y="1742.43" width="33.7" height="33.6267" fill="#4652f5"/>
<rect x="412.74" y="1742.43" width="33.64" height="33.6267" fill="#3385f7"/>
<rect x="684.2" y="1742.43" width="33.7" height="33.6267" fill="#4539d7"/>
<rect x="445.88" y="1742.43" width="33.64" height="33.6267" fill="#4539d7"/>
<rect x="717.4" y="1742.43" width="33.7" height="33.6267" fill="#4652f5"/>
<rect x="213.9" y="1775.55" width="33.64" height="33.6267" fill="#4743e8"/>
<rect x="485" y="1775.55" width="33.7" height="33.6267" fill="#fff"/>
<rect x="247.04" y="1775.55" width="33.64" height="33.6267" fill="#4536d2"/>
<rect x="518.2" y="1775.55" width="33.7" height="33.6267" fill="#416bfd"/>
<rect x="280.18" y="1775.55" width="33.64" height="33.6267" fill="#464ef2"/>
<rect x="551.4" y="1775.55" width="33.7" height="33.6267" fill="#fff"/>
<rect x="313.32" y="1775.55" width="33.64" height="33.6267" fill="#4464fc"/>
<rect x="584.6" y="1775.55" width="33.7" height="33.6267" fill="#3f6ffd"/>
<rect x="346.46" y="1775.55" width="33.64" height="33.6267" fill="#4652f5"/>
<rect x="617.8" y="1775.55" width="33.7" height="33.6267" fill="#4536d2"/>
<rect x="379.6" y="1775.55" width="33.64" height="33.6267" fill="#4652f5"/>
<rect x="651" y="1775.55" width="33.7" height="33.6267" fill="#4652f5"/>
<rect x="412.74" y="1775.55" width="33.64" height="33.6267" fill="#3e73fc"/>
<rect x="684.2" y="1775.55" width="33.7" height="33.6267" fill="#4640e2"/>
<rect x="445.88" y="1775.55" width="33.64" height="33.6267" fill="#463ddd"/>
<rect x="717.4" y="1775.55" width="33.7" height="33.6267" fill="#4743e8"/>
<rect x="213.9" y="1808.68" width="33.64" height="33.6267" fill="#4747eb"/>
<rect x="485" y="1808.68" width="33.7" height="33.6267" fill="#fff"/>
<rect x="247.04" y="1808.68" width="33.64" height="33.6267" fill="#4539d7"/>
<rect x="518.2" y="1808.68" width="33.7" height="33.6267" fill="#4656f8"/>
<rect x="280.18" y="1808.68" width="33.64" height="33.6267" fill="#455dfa"/>
<rect x="551.4" y="1808.68" width="33.7" height="33.6267" fill="#4747eb"/>
<rect x="313.32" y="1808.68" width="33.64" height="33.6267" fill="#3a7bfc"/>
<rect x="584.6" y="1808.68" width="33.7" height="33.6267" fill="#4656f8"/>
<rect x="346.46" y="1808.68" width="33.64" height="33.6267" fill="#4367fd"/>
<rect x="617.8" y="1808.68" width="33.7" height="33.6267" fill="#4747eb"/>
<rect x="379.6" y="1808.68" width="33.64" height="33.6267" fill="#4559f9"/>
<rect x="651" y="1808.68" width="33.7" height="33.6267" fill="#4640e2"/>
<rect x="412.74" y="1808.68" width="33.64" height="33.6267" fill="#3385f7"/>
<rect x="684.2" y="1808.68" width="33.7" height="33.6267" fill="#4743e8"/>
<rect x="445.88" y="1808.68" width="33.64" height="33.6267" fill="#4743e8"/>
<rect x="717.4" y="1808.68" width="33.7" height="33.6267" fill="#464ef2"/>
<rect x="213.9" y="1841.81" width="33.64" height="33.6267" fill="#474bee"/>
<rect x="485" y="1841.81" width="33.7" height="33.6267" fill="#fff"/>
<rect x="247.04" y="1841.81" width="33.64" height="33.6267" fill="#463ddd"/>
<rect x="518.2" y="1841.81" width="33.7" height="33.6267" fill="#474bee"/>
<rect x="280.18" y="1841.81" width="33.64" height="33.6267" fill="#3f6ffd"/>
<rect x="551.4" y="1841.81" width="33.7" height="33.6267" fill="#455dfa"/>
<rect x="313.32" y="1841.81" width="33.64" height="33.6267" fill="#3088f6"/>
<rect x="584.6" y="1841.81" width="33.7" height="33.6267" fill="#464ef2"/>
<rect x="346.46" y="1841.81" width="33.64" height="33.6267" fill="#3c77fc"/>
<rect x="617.8" y="1841.81" width="33.7" height="33.6267" fill="#4330c5"/>
<rect x="379.6" y="1841.81" width="33.64" height="33.6267" fill="#4367fd"/>
<rect x="651" y="1841.81" width="33.7" height="33.6267" fill="#4652f5"/>
<rect x="412.74" y="1841.81" width="33.64" height="33.6267" fill="#2e8bf4"/>
<rect x="684.2" y="1841.81" width="33.7" height="33.6267" fill="#474bee"/>
<rect x="445.88" y="1841.81" width="33.64" height="33.6267" fill="#464ef2"/>
<rect x="717.4" y="1841.81" width="33.7" height="33.6267" fill="#4652f5"/>
<rect x="213.9" y="1874.93" width="33.64" height="33.6267" fill="#455dfa"/>
<rect x="485" y="1874.93" width="33.7" height="33.6267" fill="#fff"/>
<rect x="247.04" y="1874.93" width="33.64" height="33.6267" fill="#464ef2"/>
<rect x="518.2" y="1874.93" width="33.7" height="33.6267" fill="#4656f8"/>
<rect x="280.18" y="1874.93" width="33.64" height="33.6267" fill="#2e8bf4"/>
<rect x="551.4" y="1874.93" width="33.7" height="33.6267" fill="#3a7bfc"/>
<rect x="313.32" y="1874.93" width="33.64" height="33.6267" fill="#23a1e4"/>
<rect x="584.6" y="1874.93" width="33.7" height="33.6267" fill="#4656f8"/>
<rect x="346.46" y="1874.93" width="33.64" height="33.6267" fill="#2998ea"/>
<rect x="617.8" y="1874.93" width="33.7" height="33.6267" fill="#4743e8"/>
<rect x="379.6" y="1874.93" width="33.64" height="33.6267" fill="#387efa"/>
<rect x="651" y="1874.93" width="33.7" height="33.6267" fill="#4747eb"/>
<rect x="412.74" y="1874.93" width="33.64" height="33.6267" fill="#289be8"/>
<rect x="684.2" y="1874.93" width="33.7" height="33.6267" fill="#474bee"/>
<rect x="445.88" y="1874.93" width="33.64" height="33.6267" fill="#3f6ffd"/>
<rect x="717.4" y="1874.93" width="33.7" height="33.6267" fill="#4652f5"/>
<rect x="213.9" y="1908.06" width="33.64" height="33.6267" fill="#3f6ffd"/>
<rect x="485" y="1908.06" width="33.7" height="33.6267" fill="#fff"/>
<rect x="247.04" y="1908.06" width="33.64" height="33.6267" fill="#4464fc"/>
<rect x="518.2" y="1908.06" width="33.7" height="33.6267" fill="#4464fc"/>
<rect x="280.18" y="1908.06" width="33.64" height="33.6267" fill="#20a4e3"/>
<rect x="551.4" y="1908.06" width="33.7" height="33.6267" fill="#474bee"/>
<rect x="313.32" y="1908.06" width="33.64" height="33.6267" fill="#08b8c6"/>
<rect x="584.6" y="1908.06" width="33.7" height="33.6267" fill="#4460fb"/>
<rect x="346.46" y="1908.06" width="33.64" height="33.6267" fill="#07b4d0"/>
<rect x="617.8" y="1908.06" width="33.7" height="33.6267" fill="#4743e8"/>
<rect x="379.6" y="1908.06" width="33.64" height="33.6267" fill="#2998ea"/>
<rect x="651" y="1908.06" width="33.7" height="33.6267" fill="#474bee"/>
<rect x="412.74" y="1908.06" width="33.64" height="33.6267" fill="#1baadf"/>
<rect x="684.2" y="1908.06" width="33.7" height="33.6267" fill="#4747eb"/>
<rect x="445.88" y="1908.06" width="33.64" height="33.6267" fill="#2e8bf4"/>
<rect x="717.4" y="1908.06" width="33.7" height="33.6267" fill="#455dfa"/>
<rect x="213.9" y="1941.19" width="33.64" height="33.6267" fill="#2998ea"/>
<rect x="485" y="1941.19" width="33.7" height="33.6267" fill="#4433cc"/>
<rect x="247.04" y="1941.19" width="33.64" height="33.6267" fill="#259ee6"/>
<rect x="518.2" y="1941.19" width="33.7" height="33.6267" fill="#4464fc"/>
<rect x="280.18" y="1941.19" width="33.64" height="33.6267" fill="#29c2a6"/>
<rect x="551.4" y="1941.19" width="33.7" height="33.6267" fill="#4464fc"/>
<rect x="313.32" y="1941.19" width="33.64" height="33.6267" fill="#42ca8d"/>
<rect x="584.6" y="1941.19" width="33.7" height="33.6267" fill="#4464fc"/>
<rect x="346.46" y="1941.19" width="33.64" height="33.6267" fill="#4dcb84"/>
<rect x="617.8" y="1941.19" width="33.7" height="33.6267" fill="#4656f8"/>
<rect x="379.6" y="1941.19" width="33.64" height="33.6267" fill="#08b8c6"/>
<rect x="651" y="1941.19" width="33.7" height="33.6267" fill="#3c77fc"/>
<rect x="412.74" y="1941.19" width="33.64" height="33.6267" fill="#29c2a6"/>
<rect x="684.2" y="1941.19" width="33.7" height="33.6267" fill="#4559f9"/>
<rect x="445.88" y="1941.19" width="33.64" height="33.6267" fill="#08b8c6"/>
<rect x="717.4" y="1941.19" width="33.7" height="33.6267" fill="#3088f6"/>
<rect x="213.9" y="1974.31" width="33.64" height="33.6267" fill="#02b6cc"/>
<rect x="485" y="1974.31" width="33.7" height="33.6267" fill="#455dfa"/>
<rect x="247.04" y="1974.31" width="33.64" height="33.6267" fill="#29c2a6"/>
<rect x="518.2" y="1974.31" width="33.7" height="33.6267" fill="#4464fc"/>
<rect x="280.18" y="1974.31" width="33.64" height="33.6267" fill="#6bcd6b"/>
<rect x="551.4" y="1974.31" width="33.7" height="33.6267" fill="#3e73fc"/>
<rect x="313.32" y="1974.31" width="33.64" height="33.6267" fill="#9ec843"/>
<rect x="584.6" y="1974.31" width="33.7" height="33.6267" fill="#4367fd"/>
<rect x="346.46" y="1974.31" width="33.64" height="33.6267" fill="#deba33"/>
<rect x="617.8" y="1974.31" width="33.7" height="33.6267" fill="#4656f8"/>
<rect x="379.6" y="1974.31" width="33.64" height="33.6267" fill="#37c897"/>
<rect x="651" y="1974.31" width="33.7" height="33.6267" fill="#2a95ed"/>
<rect x="412.74" y="1974.31" width="33.64" height="33.6267" fill="#6bcd6b"/>
<rect x="684.2" y="1974.31" width="33.7" height="33.6267" fill="#474bee"/>
<rect x="445.88" y="1974.31" width="33.64" height="33.6267" fill="#52cc7f"/>
<rect x="717.4" y="1974.31" width="33.7" height="33.6267" fill="#23a1e4"/>
<rect x="213.9" y="2007.44" width="33.64" height="33.6267" fill="#74cd65"/>
<rect x="485" y="2007.44" width="33.7" height="33.6267" fill="#455dfa"/>
<rect x="247.04" y="2007.44" width="33.64" height="33.6267" fill="#c9bd31"/>
<rect x="518.2" y="2007.44" width="33.7" height="33.6267" fill="#3581f9"/>
<rect x="280.18" y="2007.44" width="33.64" height="33.6267" fill="#f1b93a"/>
<rect x="551.4" y="2007.44" width="33.7" height="33.6267" fill="#3385f7"/>
<rect x="313.32" y="2007.44" width="33.64" height="33.6267" fill="#f6bd39"/>
<rect x="584.6" y="2007.44" width="33.7" height="33.6267" fill="#3385f7"/>
<rect x="346.46" y="2007.44" width="33.64" height="33.6267" fill="#f7f31b"/>
<rect x="617.8" y="2007.44" width="33.7" height="33.6267" fill="#4464fc"/>
<rect x="379.6" y="2007.44" width="33.64" height="33.6267" fill="#b8c236"/>
<rect x="651" y="2007.44" width="33.7" height="33.6267" fill="#19bcb6"/>
<rect x="412.74" y="2007.44" width="33.64" height="33.6267" fill="#b8c236"/>
<rect x="684.2" y="2007.44" width="33.7" height="33.6267" fill="#4652f5"/>
<rect x="445.88" y="2007.44" width="33.64" height="33.6267" fill="#e5ba35"/>
<rect x="717.4" y="2007.44" width="33.7" height="33.6267" fill="#0eb9c1"/>
<rect x="213.9" y="2040.57" width="33.64" height="33.6267" fill="#f6bd39"/>
<rect x="485" y="2040.57" width="33.7" height="33.6267" fill="#3581f9"/>
<rect x="247.04" y="2040.57" width="33.64" height="33.6267" fill="#f7f01e"/>
<rect x="518.2" y="2040.57" width="33.7" height="33.6267" fill="#2e8bf4"/>
<rect x="280.18" y="2040.57" width="33.64" height="33.6267" fill="#f6e426"/>
<rect x="551.4" y="2040.57" width="33.7" height="33.6267" fill="#1ea7e1"/>
<rect x="313.32" y="2040.57" width="33.64" height="33.6267" fill="#f6e426"/>
<rect x="584.6" y="2040.57" width="33.7" height="33.6267" fill="#2d8ef2"/>
<rect x="346.46" y="2040.57" width="33.64" height="33.6267" fill="#f9fb15"/>
<rect x="617.8" y="2040.57" width="33.7" height="33.6267" fill="#4367fd"/>
<rect x="379.6" y="2040.57" width="33.64" height="33.6267" fill="#fdc736"/>
<rect x="651" y="2040.57" width="33.7" height="33.6267" fill="#5acc78"/>
<rect x="412.74" y="2040.57" width="33.64" height="33.6267" fill="#f9bf39"/>
<rect x="684.2" y="2040.57" width="33.7" height="33.6267" fill="#464ef2"/>
<rect x="445.88" y="2040.57" width="33.64" height="33.6267" fill="#f6e426"/>
<rect x="717.4" y="2040.57" width="33.7" height="33.6267" fill="#3cc992"/>
<rect x="213.9" y="2073.69" width="33.64" height="33.6267" fill="#f9fb15"/>
<rect x="485" y="2073.69" width="33.7" height="33.6267" fill="#02b6cc"/>
<rect x="247.04" y="2073.69" width="33.64" height="33.6267" fill="#f9fb15"/>
<rect x="518.2" y="2073.69" width="33.7" height="33.6267" fill="#1ea7e1"/>
<rect x="280.18" y="2073.69" width="33.64" height="33.6267" fill="#f9fb15"/>
<rect x="551.4" y="2073.69" width="33.7" height="33.6267" fill="#37c897"/>
<rect x="313.32" y="2073.69" width="33.64" height="33.6267" fill="#f9fb15"/>
<rect x="584.6" y="2073.69" width="33.7" height="33.6267" fill="#1ea7e1"/>
<rect x="346.46" y="2073.69" width="33.64" height="33.6267" fill="#f9fb15"/>
<rect x="617.8" y="2073.69" width="33.7" height="33.6267" fill="#3581f9"/>
<rect x="379.6" y="2073.69" width="33.64" height="33.6267" fill="#f9fb15"/>
<rect x="651" y="2073.69" width="33.7" height="33.6267" fill="#deba33"/>
<rect x="412.74" y="2073.69" width="33.64" height="33.6267" fill="#f7f31b"/>
<rect x="684.2" y="2073.69" width="33.7" height="33.6267" fill="#3e73fc"/>
<rect x="445.88" y="2073.69" width="33.64" height="33.6267" fill="#f9fb15"/>
<rect x="717.4" y="2073.69" width="33.7" height="33.6267" fill="#9ec843"/>
<rect x="213.9" y="2106.82" width="33.64" height="33.6267" fill="#f9fb15"/>
<rect x="485" y="2106.82" width="33.7" height="33.6267" fill="#37c897"/>
<rect x="247.04" y="2106.82" width="33.64" height="33.6267" fill="#f9fb15"/>
<rect x="518.2" y="2106.82" width="33.7" height="33.6267" fill="#29c2a6"/>
<rect x="280.18" y="2106.82" width="33.64" height="33.6267" fill="#f9fb15"/>
<rect x="551.4" y="2106.82" width="33.7" height="33.6267" fill="#37c897"/>
<rect x="313.32" y="2106.82" width="33.64" height="33.6267" fill="#f9fb15"/>
<rect x="584.6" y="2106.82" width="33.7" height="33.6267" fill="#29c2a6"/>
<rect x="346.46" y="2106.82" width="33.64" height="33.6267" fill="#f9fb15"/>
<rect x="617.8" y="2106.82" width="33.7" height="33.6267" fill="#07b4d0"/>
<rect x="379.6" y="2106.82" width="33.64" height="33.6267" fill="#f9fb15"/>
<rect x="651" y="2106.82" width="33.7" height="33.6267" fill="#e5ba35"/>
<rect x="412.74" y="2106.82" width="33.64" height="33.6267" fill="#f9fb15"/>
<rect x="684.2" y="2106.82" width="33.7" height="33.6267" fill="#23a1e4"/>
<rect x="445.88" y="2106.82" width="33.64" height="33.6267" fill="#f9fb15"/>
<rect x="717.4" y="2106.82" width="33.7" height="33.6267" fill="#fdc736"/>
<rect x="213.9" y="2139.95" width="33.64" height="33.6267" fill="#f6ec21"/>
<rect x="485" y="2139.95" width="33.7" height="33.6267" fill="#37c897"/>
<rect x="247.04" y="2139.95" width="33.64" height="33.6267" fill="#f9fb15"/>
<rect x="518.2" y="2139.95" width="33.7" height="33.6267" fill="#2dc4a1"/>
<rect x="280.18" y="2139.95" width="33.64" height="33.6267" fill="#f9fb15"/>
<rect x="551.4" y="2139.95" width="33.7" height="33.6267" fill="#37c897"/>
<rect x="313.32" y="2139.95" width="33.64" height="33.6267" fill="#f9fb15"/>
<rect x="584.6" y="2139.95" width="33.7" height="33.6267" fill="#2dc4a1"/>
<rect x="346.46" y="2139.95" width="33.64" height="33.6267" fill="#f9fb15"/>
<rect x="617.8" y="2139.95" width="33.7" height="33.6267" fill="#24c0ab"/>
<rect x="379.6" y="2139.95" width="33.64" height="33.6267" fill="#f9fb15"/>
<rect x="651" y="2139.95" width="33.7" height="33.6267" fill="#6bcd6b"/>
<rect x="412.74" y="2139.95" width="33.64" height="33.6267" fill="#f9fb15"/>
<rect x="684.2" y="2139.95" width="33.7" height="33.6267" fill="#02b6cc"/>
<rect x="445.88" y="2139.95" width="33.64" height="33.6267" fill="#f7f31b"/>
<rect x="717.4" y="2139.95" width="33.7" height="33.6267" fill="#f5e824"/>
<rect x="213.9" y="2173.07" width="33.64" height="33.6267" fill="#37c897"/>
<rect x="485" y="2173.07" width="33.7" height="33.6267" fill="#1fbeb0"/>
<rect x="247.04" y="2173.07" width="33.64" height="33.6267" fill="#f6e426"/>
<rect x="518.2" y="2173.07" width="33.7" height="33.6267" fill="#11afd7"/>
<rect x="280.18" y="2173.07" width="33.64" height="33.6267" fill="#a7c73c"/>
<rect x="551.4" y="2173.07" width="33.7" height="33.6267" fill="#37c897"/>
<rect x="313.32" y="2173.07" width="33.64" height="33.6267" fill="#b8c236"/>
<rect x="584.6" y="2173.07" width="33.7" height="33.6267" fill="#16acdb"/>
<rect x="346.46" y="2173.07" width="33.64" height="33.6267" fill="#fdc736"/>
<rect x="617.8" y="2173.07" width="33.7" height="33.6267" fill="#0cb1d4"/>
<rect x="379.6" y="2173.07" width="33.64" height="33.6267" fill="#d8bb30"/>
<rect x="651" y="2173.07" width="33.7" height="33.6267" fill="#20a4e3"/>
<rect x="412.74" y="2173.07" width="33.64" height="33.6267" fill="#b8c236"/>
<rect x="684.2" y="2173.07" width="33.7" height="33.6267" fill="#16acdb"/>
<rect x="445.88" y="2173.07" width="33.64" height="33.6267" fill="#37c897"/>
<rect x="717.4" y="2173.07" width="33.7" height="33.6267" fill="#c9bd31"/>
</g>
<rect x="211.3" y="1707.1" width="544.8" height="5.8" fill="#000"/>
<rect x="211.3" y="2203" width="544.8" height="5.9" fill="#000"/>
<rect x="211.3" y="1673.3" width="5.5" height="569.4" fill="#000"/>
<rect x="750" y="1673.3" width="6.1" height="569.4" fill="#000"/>
<rect x="478.2" y="1671.8" width="6.1" height="570.7" fill="#000"/>
<rect x="276.7" y="1673.2" width="5.8" height="36.8" fill="#000"/>
<rect x="276.7" y="2206" width="5.8" height="36.7" fill="#000"/>
<rect x="343.3" y="1673.2" width="5.8" height="36.8" fill="#000"/>
<rect x="343.3" y="2206" width="5.8" height="36.7" fill="#000"/>
<rect x="409.6" y="1673.2" width="5.8" height="36.8" fill="#000"/>
<rect x="409.6" y="2206" width="5.8" height="36.7" fill="#000"/>
<rect x="547.1" y="1673.2" width="5.8" height="36.8" fill="#000"/>
<rect x="547.1" y="2206" width="5.8" height="36.7" fill="#000"/>
<rect x="613.8" y="1673.2" width="5.8" height="36.8" fill="#000"/>
<rect x="613.8" y="2206" width="5.8" height="36.7" fill="#000"/>
<rect x="680.1" y="1673.2" width="5.8" height="36.8" fill="#000"/>
<rect x="680.1" y="2206" width="5.8" height="36.7" fill="#000"/>
<text transform="translate(225.14 1693.9)" font-size="40" text-anchor="start" class="b">-</text>
<text transform="translate(251.512 1696.96)" font-size="39" text-anchor="start" class="b">+</text>
<text transform="translate(289.24 1693.9)" font-size="40" text-anchor="start" class="b">-</text>
<text transform="translate(317.812 1696.96)" font-size="39" text-anchor="start" class="b">+</text>
<text transform="translate(356.14 1693.9)" font-size="40" text-anchor="start" class="b">-</text>
<text transform="translate(381.112 1696.96)" font-size="39" text-anchor="start" class="b">+</text>
<text transform="translate(420.24 1693.9)" font-size="40" text-anchor="start" class="b">-</text>
<text transform="translate(447.112 1696.96)" font-size="39" text-anchor="start" class="b">+</text>
<text transform="translate(489.64 1693.9)" font-size="40" text-anchor="start" class="b">-</text>
<text transform="translate(521.012 1696.96)" font-size="39" text-anchor="start" class="b">+</text>
<text transform="translate(560.64 1693.9)" font-size="40" text-anchor="start" class="b">-</text>
<text transform="translate(589.112 1696.96)" font-size="39" text-anchor="start" class="b">+</text>
<text transform="translate(626.94 1693.9)" font-size="40" text-anchor="start" class="b">-</text>
<text transform="translate(652.112 1696.96)" font-size="39" text-anchor="start" class="b">+</text>
<text transform="translate(691.64 1693.9)" font-size="40" text-anchor="start" class="b">-</text>
<text transform="translate(718.612 1696.96)" font-size="39" text-anchor="start" class="b">+</text>
<text transform="translate(144.3 1697) scale(0.95 1)" font-size="41.5" text-anchor="start" class="b">Mn</text>
<rect x="197.6" y="1791.4" width="16.4" height="6" fill="#000"/>
<text transform="translate(192 1807.9) scale(0.96 1)" font-size="41.5" text-anchor="end" class="b">25</text>
<rect x="197.6" y="1875" width="16.4" height="6" fill="#000"/>
<text transform="translate(192 1891.5) scale(0.96 1)" font-size="41.5" text-anchor="end" class="b">20</text>
<rect x="197.6" y="1957.5" width="16.4" height="6" fill="#000"/>
<text transform="translate(192 1974) scale(0.96 1)" font-size="41.5" text-anchor="end" class="b">15</text>
<rect x="197.6" y="2043" width="16.4" height="6" fill="#000"/>
<text transform="translate(192 2059.5) scale(0.96 1)" font-size="41.5" text-anchor="end" class="b">10</text>
<rect x="197.6" y="2126.4" width="16.4" height="6" fill="#000"/>
<text transform="translate(192 2142.9) scale(0.96 1)" font-size="41.5" text-anchor="end" class="b">5</text>
<text transform="translate(137.5 1962) rotate(-90) scale(0.96 1)" font-size="41.5" text-anchor="middle" class="b">Biofilm distance (<tspan class="mu">μ</tspan>m)</text>
<text transform="translate(105.5 2237) scale(0.945 1)" font-size="41.5" text-anchor="start" class="b">Days</text>
<text transform="translate(247.3 2242.7) scale(0.96 1)" font-size="41.5" text-anchor="middle" class="b">1</text>
<text transform="translate(515.2 2242.7) scale(0.96 1)" font-size="41.5" text-anchor="middle" class="b">1</text>
<text transform="translate(313.9 2242.7) scale(0.96 1)" font-size="41.5" text-anchor="middle" class="b">2</text>
<text transform="translate(584 2242.7) scale(0.96 1)" font-size="41.5" text-anchor="middle" class="b">2</text>
<text transform="translate(380.8 2242.7) scale(0.96 1)" font-size="41.5" text-anchor="middle" class="b">3</text>
<text transform="translate(650 2242.7) scale(0.96 1)" font-size="41.5" text-anchor="middle" class="b">3</text>
<text transform="translate(445.4 2242.7) scale(0.96 1)" font-size="41.5" text-anchor="middle" class="b">4</text>
<text transform="translate(715.4 2242.7) scale(0.96 1)" font-size="41.5" text-anchor="middle" class="b">4</text>
<rect x="211.3" y="2259.5" width="263.5" height="7" fill="#000"/>
<rect x="484.5" y="2259.5" width="261.5" height="7" fill="#000"/>
<text transform="translate(359.5 2307.5) scale(0.96 1)" font-size="41.5" text-anchor="middle" class="b">30ºC</text>
<text transform="translate(615.5 2307.5) scale(0.96 1)" font-size="41.5" text-anchor="middle" class="b">18º</text>
<rect x="838.8" y="1708.1" width="62" height="504.6" fill="#000"/>
<rect x="844.7" y="1714" width="50" height="492.4" fill="url(#cb)"/>
<rect x="900" y="1707.7" width="15.3" height="6.2" fill="#000"/>
<text transform="translate(917.3 1735.1) scale(0.96 1)" font-size="41.5" text-anchor="start" class="b">0.30</text>
<rect x="900" y="1790.7" width="15.3" height="6.2" fill="#000"/>
<text transform="translate(917.3 1807.5) scale(0.96 1)" font-size="41.5" text-anchor="start" class="b">0.25</text>
<rect x="900" y="1873.7" width="15.3" height="6.2" fill="#000"/>
<text transform="translate(917.3 1890.5) scale(0.96 1)" font-size="41.5" text-anchor="start" class="b">0.20</text>
<rect x="900" y="1956.7" width="15.3" height="6.2" fill="#000"/>
<text transform="translate(917.3 1973.5) scale(0.96 1)" font-size="41.5" text-anchor="start" class="b">0.15</text>
<rect x="900" y="2039.7" width="15.3" height="6.2" fill="#000"/>
<text transform="translate(917.3 2056.5) scale(0.96 1)" font-size="41.5" text-anchor="start" class="b">0.10</text>
<rect x="900" y="2122.7" width="15.3" height="6.2" fill="#000"/>
<text transform="translate(917.3 2139.5) scale(0.96 1)" font-size="41.5" text-anchor="start" class="b">0.05</text>
<rect x="900" y="2205.7" width="15.3" height="6.2" fill="#000"/>
<text transform="translate(917.3 2221.1) scale(0.96 1)" font-size="41.5" text-anchor="start" class="b">0.00</text>
<text transform="translate(1049.5 1963) rotate(-90) scale(0.94 1)" font-size="41.5" text-anchor="middle" class="b">Biomass density (<tspan class="mu">μ</tspan>m<tspan font-size="21" dy="-16">3</tspan><tspan dy="16">)</tspan></text>
</svg></body></html>
